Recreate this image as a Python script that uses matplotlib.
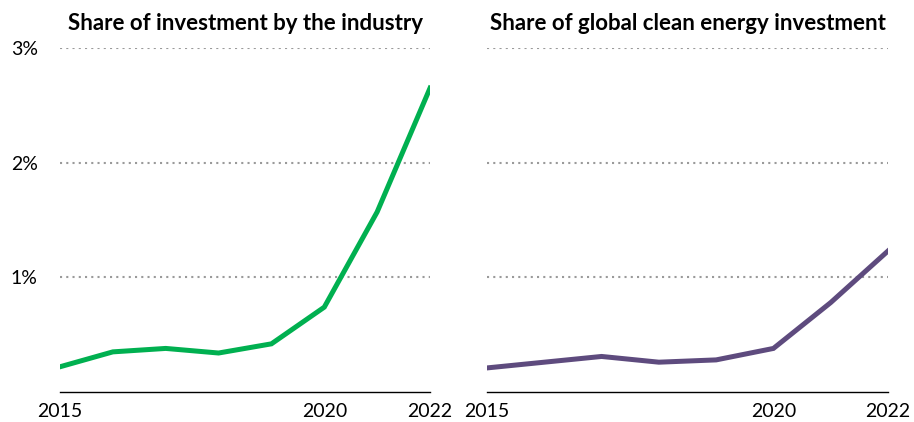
import numpy as np
import matplotlib.pyplot as plt

# Datos (en %)
years = [2015, 2016, 2017, 2018, 2019, 2020, 2021, 2022]
industry_share = [0.22, 0.35, 0.38, 0.34, 0.42, 0.74, 1.57, 2.65]
global_share = [0.21, 0.26, 0.31, 0.26, 0.28, 0.38, 0.78, 1.23]
titles = ["Share of investment by the industry", "Share of global clean energy investment"]
xticks = [2015, 2020, 2022]
yticks = [1, 2, 3]

plt.rcParams['font.family'] = ['Lato', 'DejaVu Sans']

fig = plt.figure(figsize=(9.14, 4.22), dpi=100)
ax1 = fig.add_axes([60/914, 30/422, 370/914, 344/422])
ax2 = fig.add_axes([487/914, 30/422, 401/914, 344/422])

series = [industry_share, global_share]
colors = ["#00B050", "#5E4B7E"]

for i, (ax, vals, col, t) in enumerate(zip([ax1, ax2], series, colors, titles)):
    for y in yticks:
        ax.axhline(y, color="#9a9a9a", lw=1.5, ls=(0, (1, 2.0)), zorder=1)
    ax.plot(years, vals, color=col, lw=3.6, solid_joinstyle="miter", zorder=3)
    ax.set_xlim(2015, 2022)
    ax.set_ylim(0, 3)
    ax.set_xticks(xticks)
    ax.set_xticklabels([str(x) for x in xticks], fontsize=14)
    ax.set_yticks(yticks)
    if i == 0:
        ax.set_yticklabels([f"{y}%" for y in yticks], fontsize=14)
    else:
        ax.set_yticklabels([])
    ax.tick_params(length=0, pad=8)
    ax.tick_params(axis="y", pad=16)
    for s in ["top", "right", "left"]:
        ax.spines[s].set_visible(False)
    ax.spines["bottom"].set_linewidth(1.0)
    ax.set_title(t, fontsize=16, fontweight="bold", pad=13)

plt.savefig("out.png", dpi=100)
